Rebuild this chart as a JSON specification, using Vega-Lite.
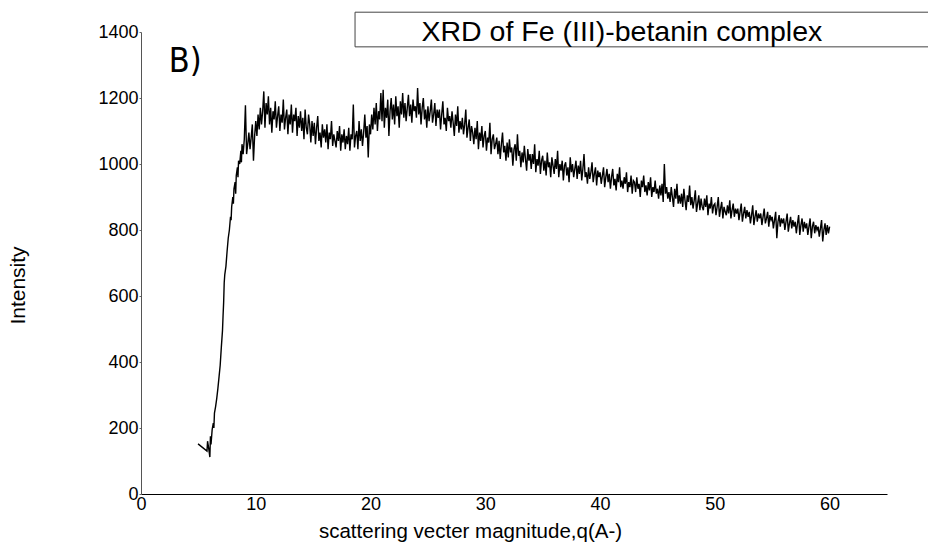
{
"$schema":"https://vega.github.io/schema/vega-lite/v6.json",
"autosize":{"type":"none"},
"width":746,"height":462,
"padding":{"left":141,"top":32,"right":41,"bottom":54},
"background":"white",
"config":{"view":{"stroke":null},"font":"Liberation Sans"},
"datasets":{"xrd":[
{"q":4.97,"i":152},{"q":5.75,"i":130},{"q":5.8,"i":160},{"q":5.9,"i":138},{"q":6.0,"i":112},{"q":6.05,"i":175},{"q":6.1,"i":150},{"q":6.2,"i":195},{"q":6.3,"i":215},{"q":6.35,"i":200},{"q":6.4,"i":245},{"q":6.5,"i":265},{"q":6.6,"i":290},{"q":6.7,"i":320},{"q":6.8,"i":355},{"q":6.9,"i":390},{"q":7.0,"i":445},{"q":7.1,"i":495},{"q":7.15,"i":540},{"q":7.2,"i":580},{"q":7.25,"i":640},{"q":7.3,"i":665},{"q":7.4,"i":690},{"q":7.5,"i":735},{"q":7.6,"i":775},{"q":7.7,"i":800},{"q":7.8,"i":840},{"q":7.85,"i":830},{"q":7.9,"i":870},{"q":8.0,"i":900},{"q":8.05,"i":880},{"q":8.1,"i":925},{"q":8.2,"i":945},{"q":8.25,"i":910},{"q":8.3,"i":965},{"q":8.4,"i":990},{"q":8.45,"i":960},{"q":8.5,"i":1010},{"q":8.6,"i":1000},{"q":8.7,"i":1040},{"q":8.75,"i":1005},{"q":8.8,"i":1060},{"q":8.9,"i":1030},
{"q":9.0,"i":1075},{"q":9.1,"i":1178},{"q":9.2,"i":1030},{"q":9.3,"i":1060},{"q":9.4,"i":1095},{"q":9.5,"i":1045},{"q":9.6,"i":1080},{"q":9.7,"i":1120},{"q":9.8,"i":1010},{"q":9.9,"i":1085},
{"q":10.0,"i":1130},{"q":10.1,"i":1085},{"q":10.2,"i":1150},{"q":10.3,"i":1105},{"q":10.4,"i":1170},{"q":10.5,"i":1120},{"q":10.6,"i":1160},{"q":10.7,"i":1220},{"q":10.8,"i":1110},{"q":10.9,"i":1185},
{"q":11.0,"i":1150},{"q":11.1,"i":1205},{"q":11.2,"i":1120},{"q":11.3,"i":1170},{"q":11.4,"i":1095},{"q":11.5,"i":1160},{"q":11.6,"i":1135},{"q":11.7,"i":1190},{"q":11.8,"i":1110},{"q":11.9,"i":1145},
{"q":12.0,"i":1175},{"q":12.1,"i":1100},{"q":12.2,"i":1150},{"q":12.3,"i":1125},{"q":12.4,"i":1195},{"q":12.5,"i":1105},{"q":12.6,"i":1140},{"q":12.7,"i":1165},{"q":12.8,"i":1090},{"q":12.9,"i":1150},
{"q":13.0,"i":1120},{"q":13.1,"i":1180},{"q":13.2,"i":1095},{"q":13.3,"i":1150},{"q":13.4,"i":1130},{"q":13.5,"i":1170},{"q":13.6,"i":1085},{"q":13.7,"i":1145},{"q":13.8,"i":1110},{"q":13.9,"i":1160},
{"q":14.0,"i":1100},{"q":14.1,"i":1140},{"q":14.2,"i":1075},{"q":14.3,"i":1165},{"q":14.4,"i":1110},{"q":14.5,"i":1090},{"q":14.6,"i":1150},{"q":14.7,"i":1120},{"q":14.8,"i":1065},{"q":14.9,"i":1130},
{"q":15.0,"i":1085},{"q":15.1,"i":1125},{"q":15.2,"i":1060},{"q":15.3,"i":1110},{"q":15.4,"i":1145},{"q":15.5,"i":1070},{"q":15.6,"i":1095},{"q":15.7,"i":1050},{"q":15.8,"i":1120},{"q":15.9,"i":1080},
{"q":16.0,"i":1105},{"q":16.1,"i":1065},{"q":16.2,"i":1120},{"q":16.3,"i":1045},{"q":16.4,"i":1095},{"q":16.5,"i":1075},{"q":16.6,"i":1130},{"q":16.7,"i":1055},{"q":16.8,"i":1090},{"q":16.9,"i":1070},
{"q":17.0,"i":1050},{"q":17.1,"i":1100},{"q":17.2,"i":1070},{"q":17.3,"i":1115},{"q":17.4,"i":1040},{"q":17.5,"i":1090},{"q":17.6,"i":1065},{"q":17.7,"i":1105},{"q":17.8,"i":1045},{"q":17.9,"i":1085},
{"q":18.0,"i":1060},{"q":18.1,"i":1110},{"q":18.2,"i":1040},{"q":18.3,"i":1090},{"q":18.4,"i":1075},{"q":18.5,"i":1180},{"q":18.6,"i":1050},{"q":18.7,"i":1085},{"q":18.8,"i":1100},{"q":18.9,"i":1045},
{"q":19.0,"i":1130},{"q":19.1,"i":1070},{"q":19.2,"i":1105},{"q":19.3,"i":1055},{"q":19.4,"i":1095},{"q":19.5,"i":1150},{"q":19.6,"i":1080},{"q":19.7,"i":1115},{"q":19.8,"i":1020},{"q":19.9,"i":1120},
{"q":20.0,"i":1090},{"q":20.1,"i":1150},{"q":20.2,"i":1105},{"q":20.3,"i":1170},{"q":20.4,"i":1120},{"q":20.5,"i":1185},{"q":20.6,"i":1100},{"q":20.7,"i":1160},{"q":20.8,"i":1135},{"q":20.9,"i":1215},
{"q":21.0,"i":1130},{"q":21.1,"i":1225},{"q":21.2,"i":1110},{"q":21.3,"i":1170},{"q":21.4,"i":1140},{"q":21.5,"i":1195},{"q":21.6,"i":1085},{"q":21.7,"i":1160},{"q":21.8,"i":1200},{"q":21.9,"i":1135},
{"q":22.0,"i":1180},{"q":22.1,"i":1120},{"q":22.2,"i":1205},{"q":22.3,"i":1145},{"q":22.4,"i":1175},{"q":22.5,"i":1110},{"q":22.6,"i":1190},{"q":22.7,"i":1150},{"q":22.8,"i":1215},{"q":22.9,"i":1140},
{"q":23.0,"i":1185},{"q":23.1,"i":1130},{"q":23.2,"i":1170},{"q":23.3,"i":1210},{"q":23.4,"i":1145},{"q":23.5,"i":1180},{"q":23.6,"i":1125},{"q":23.7,"i":1195},{"q":23.8,"i":1160},{"q":23.9,"i":1175},
{"q":24.0,"i":1140},{"q":24.1,"i":1230},{"q":24.2,"i":1150},{"q":24.3,"i":1185},{"q":24.4,"i":1120},{"q":24.5,"i":1170},{"q":24.6,"i":1200},{"q":24.7,"i":1135},{"q":24.8,"i":1165},{"q":24.9,"i":1110},
{"q":25.0,"i":1175},{"q":25.1,"i":1130},{"q":25.2,"i":1160},{"q":25.3,"i":1195},{"q":25.4,"i":1125},{"q":25.5,"i":1150},{"q":25.6,"i":1185},{"q":25.7,"i":1115},{"q":25.8,"i":1165},{"q":25.9,"i":1140},
{"q":26.0,"i":1165},{"q":26.1,"i":1105},{"q":26.2,"i":1150},{"q":26.3,"i":1190},{"q":26.4,"i":1120},{"q":26.5,"i":1140},{"q":26.6,"i":1100},{"q":26.7,"i":1170},{"q":26.8,"i":1130},{"q":26.9,"i":1145},
{"q":27.0,"i":1110},{"q":27.1,"i":1160},{"q":27.2,"i":1125},{"q":27.3,"i":1085},{"q":27.4,"i":1150},{"q":27.5,"i":1115},{"q":27.6,"i":1175},{"q":27.7,"i":1095},{"q":27.8,"i":1130},{"q":27.9,"i":1105},
{"q":28.0,"i":1140},{"q":28.1,"i":1090},{"q":28.2,"i":1120},{"q":28.3,"i":1165},{"q":28.4,"i":1080},{"q":28.5,"i":1110},{"q":28.6,"i":1135},{"q":28.7,"i":1070},{"q":28.8,"i":1115},{"q":28.9,"i":1095},
{"q":29.0,"i":1060},{"q":29.1,"i":1110},{"q":29.2,"i":1075},{"q":29.3,"i":1130},{"q":29.4,"i":1045},{"q":29.5,"i":1095},{"q":29.6,"i":1070},{"q":29.7,"i":1115},{"q":29.8,"i":1050},{"q":29.9,"i":1085},
{"q":30.0,"i":1100},{"q":30.1,"i":1040},{"q":30.2,"i":1080},{"q":30.3,"i":1065},{"q":30.4,"i":1125},{"q":30.5,"i":1030},{"q":30.6,"i":1075},{"q":30.7,"i":1090},{"q":30.8,"i":1045},{"q":30.9,"i":1060},
{"q":31.0,"i":1080},{"q":31.1,"i":1030},{"q":31.2,"i":1070},{"q":31.3,"i":1015},{"q":31.4,"i":1060},{"q":31.5,"i":1095},{"q":31.6,"i":1035},{"q":31.7,"i":1055},{"q":31.8,"i":1010},{"q":31.9,"i":1065},
{"q":32.0,"i":1020},{"q":32.1,"i":1075},{"q":32.2,"i":1035},{"q":32.3,"i":1050},{"q":32.4,"i":995},{"q":32.5,"i":1045},{"q":32.6,"i":1060},{"q":32.7,"i":1010},{"q":32.8,"i":1090},{"q":32.9,"i":1025},
{"q":33.0,"i":1040},{"q":33.1,"i":990},{"q":33.2,"i":1035},{"q":33.3,"i":1005},{"q":33.4,"i":1055},{"q":33.5,"i":1015},{"q":33.6,"i":980},{"q":33.7,"i":1045},{"q":33.8,"i":1010},{"q":33.9,"i":1030},
{"q":34.0,"i":985},{"q":34.1,"i":1030},{"q":34.2,"i":1000},{"q":34.3,"i":1060},{"q":34.4,"i":975},{"q":34.5,"i":1015},{"q":34.6,"i":995},{"q":34.7,"i":1040},{"q":34.8,"i":970},{"q":34.9,"i":1010},
{"q":35.0,"i":1025},{"q":35.1,"i":980},{"q":35.2,"i":1010},{"q":35.3,"i":965},{"q":35.4,"i":1035},{"q":35.5,"i":990},{"q":35.6,"i":1005},{"q":35.7,"i":960},{"q":35.8,"i":1020},{"q":35.9,"i":995},
{"q":36.0,"i":970},{"q":36.1,"i":1015},{"q":36.2,"i":985},{"q":36.3,"i":1040},{"q":36.4,"i":960},{"q":36.5,"i":1000},{"q":36.6,"i":980},{"q":36.7,"i":1010},{"q":36.8,"i":950},{"q":36.9,"i":995},
{"q":37.0,"i":1005},{"q":37.1,"i":965},{"q":37.2,"i":990},{"q":37.3,"i":945},{"q":37.4,"i":1020},{"q":37.5,"i":975},{"q":37.6,"i":1000},{"q":37.7,"i":960},{"q":37.8,"i":985},{"q":37.9,"i":1010},
{"q":38.0,"i":955},{"q":38.1,"i":995},{"q":38.2,"i":970},{"q":38.3,"i":1010},{"q":38.4,"i":950},{"q":38.5,"i":985},{"q":38.6,"i":1030},{"q":38.7,"i":960},{"q":38.8,"i":975},{"q":38.9,"i":940},
{"q":39.0,"i":990},{"q":39.1,"i":955},{"q":39.2,"i":975},{"q":39.3,"i":1005},{"q":39.4,"i":945},{"q":39.5,"i":970},{"q":39.6,"i":990},{"q":39.7,"i":935},{"q":39.8,"i":980},{"q":39.9,"i":960},
{"q":40.0,"i":975},{"q":40.1,"i":940},{"q":40.2,"i":965},{"q":40.3,"i":990},{"q":40.4,"i":930},{"q":40.5,"i":960},{"q":40.6,"i":985},{"q":40.7,"i":945},{"q":40.8,"i":970},{"q":40.9,"i":925},
{"q":41.0,"i":960},{"q":41.1,"i":985},{"q":41.2,"i":935},{"q":41.3,"i":955},{"q":41.4,"i":920},{"q":41.5,"i":970},{"q":41.6,"i":945},{"q":41.7,"i":990},{"q":41.8,"i":930},{"q":41.9,"i":950},
{"q":42.0,"i":925},{"q":42.1,"i":960},{"q":42.2,"i":940},{"q":42.3,"i":975},{"q":42.4,"i":915},{"q":42.5,"i":945},{"q":42.6,"i":930},{"q":42.7,"i":965},{"q":42.8,"i":910},{"q":42.9,"i":950},
{"q":43.0,"i":945},{"q":43.1,"i":915},{"q":43.2,"i":960},{"q":43.3,"i":925},{"q":43.4,"i":940},{"q":43.5,"i":900},{"q":43.6,"i":950},{"q":43.7,"i":930},{"q":43.8,"i":965},{"q":43.9,"i":915},
{"q":44.0,"i":935},{"q":44.1,"i":905},{"q":44.2,"i":945},{"q":44.3,"i":920},{"q":44.4,"i":960},{"q":44.5,"i":900},{"q":44.6,"i":930},{"q":44.7,"i":915},{"q":44.8,"i":950},{"q":44.9,"i":910},
{"q":45.0,"i":925},{"q":45.1,"i":895},{"q":45.2,"i":935},{"q":45.3,"i":905},{"q":45.4,"i":940},{"q":45.5,"i":885},{"q":45.6,"i":1000},{"q":45.7,"i":910},{"q":45.8,"i":930},{"q":45.9,"i":895},
{"q":46.0,"i":915},{"q":46.1,"i":885},{"q":46.2,"i":930},{"q":46.3,"i":900},{"q":46.4,"i":870},{"q":46.5,"i":925},{"q":46.6,"i":895},{"q":46.7,"i":940},{"q":46.8,"i":880},{"q":46.9,"i":905},
{"q":47.0,"i":880},{"q":47.1,"i":910},{"q":47.2,"i":870},{"q":47.3,"i":925},{"q":47.4,"i":890},{"q":47.5,"i":860},{"q":47.6,"i":905},{"q":47.7,"i":885},{"q":47.8,"i":935},{"q":47.9,"i":875},
{"q":48.0,"i":900},{"q":48.1,"i":865},{"q":48.2,"i":890},{"q":48.3,"i":920},{"q":48.4,"i":855},{"q":48.5,"i":880},{"q":48.6,"i":905},{"q":48.7,"i":860},{"q":48.8,"i":895},{"q":48.9,"i":870},
{"q":49.0,"i":860},{"q":49.1,"i":895},{"q":49.2,"i":870},{"q":49.3,"i":905},{"q":49.4,"i":845},{"q":49.5,"i":880},{"q":49.6,"i":865},{"q":49.7,"i":900},{"q":49.8,"i":850},{"q":49.9,"i":875},
{"q":50.0,"i":880},{"q":50.1,"i":845},{"q":50.2,"i":870},{"q":50.3,"i":900},{"q":50.4,"i":840},{"q":50.5,"i":865},{"q":50.6,"i":885},{"q":50.7,"i":835},{"q":50.8,"i":870},{"q":50.9,"i":855},
{"q":51.0,"i":845},{"q":51.1,"i":875},{"q":51.2,"i":850},{"q":51.3,"i":890},{"q":51.4,"i":835},{"q":51.5,"i":860},{"q":51.6,"i":880},{"q":51.7,"i":840},{"q":51.8,"i":865},{"q":51.9,"i":850},
{"q":52.0,"i":865},{"q":52.1,"i":830},{"q":52.2,"i":855},{"q":52.3,"i":880},{"q":52.4,"i":825},{"q":52.5,"i":850},{"q":52.6,"i":870},{"q":52.7,"i":835},{"q":52.8,"i":860},{"q":52.9,"i":840},
{"q":53.0,"i":855},{"q":53.1,"i":820},{"q":53.2,"i":845},{"q":53.3,"i":875},{"q":53.4,"i":815},{"q":53.5,"i":840},{"q":53.6,"i":860},{"q":53.7,"i":825},{"q":53.8,"i":850},{"q":53.9,"i":835},
{"q":54.0,"i":850},{"q":54.1,"i":815},{"q":54.2,"i":840},{"q":54.3,"i":865},{"q":54.4,"i":820},{"q":54.5,"i":835},{"q":54.6,"i":855},{"q":54.7,"i":810},{"q":54.8,"i":845},{"q":54.9,"i":830},
{"q":55.0,"i":840},{"q":55.1,"i":805},{"q":55.2,"i":830},{"q":55.3,"i":855},{"q":55.4,"i":775},{"q":55.5,"i":825},{"q":55.6,"i":845},{"q":55.7,"i":810},{"q":55.8,"i":835},{"q":55.9,"i":820},
{"q":56.0,"i":835},{"q":56.1,"i":800},{"q":56.2,"i":825},{"q":56.3,"i":850},{"q":56.4,"i":795},{"q":56.5,"i":820},{"q":56.6,"i":840},{"q":56.7,"i":805},{"q":56.8,"i":830},{"q":56.9,"i":810},
{"q":57.0,"i":825},{"q":57.1,"i":790},{"q":57.2,"i":820},{"q":57.3,"i":845},{"q":57.4,"i":785},{"q":57.5,"i":815},{"q":57.6,"i":835},{"q":57.7,"i":795},{"q":57.8,"i":825},{"q":57.9,"i":805},
{"q":58.0,"i":820},{"q":58.1,"i":785},{"q":58.2,"i":810},{"q":58.3,"i":835},{"q":58.4,"i":775},{"q":58.5,"i":810},{"q":58.6,"i":825},{"q":58.7,"i":790},{"q":58.8,"i":815},{"q":58.9,"i":800},
{"q":59.0,"i":810},{"q":59.1,"i":780},{"q":59.2,"i":805},{"q":59.3,"i":830},{"q":59.4,"i":765},{"q":59.5,"i":800},{"q":59.6,"i":820},{"q":59.7,"i":785},{"q":59.8,"i":815},{"q":59.9,"i":790},
{"q":60.0,"i":810}
]},
"layer":[
{"data":{"name":"xrd"},
 "mark":{"type":"line","color":"#000000","strokeWidth":1.4},
 "encoding":{
  "x":{"field":"q","type":"quantitative","scale":{"domain":[0,65],"nice":false},
   "axis":{"values":[0,10,20,30,40,50,60],"format":"d","ticks":false,"grid":false,"domainColor":"#000000","domainWidth":1.2,"labelFontSize":18,"labelColor":"#000000","labelPadding":1,"labelFont":"Liberation Sans","labelFlush":false,
    "title":"scattering vecter magnitude,q(A-)","titleFontSize":20.5,"titleFontWeight":"normal","titleColor":"#000000","titleFont":"Liberation Sans","titleX":329,"titleY":43,"titleBaseline":"alphabetic","titleAlign":"center"}},
  "y":{"field":"i","type":"quantitative","scale":{"domain":[0,1400],"nice":false},
   "axis":{"values":[0,100,200,300,400,500,600,700,800,900,1000,1100,1200,1300,1400],"format":"d","labelExpr":"datum.value % 200 === 0 ? datum.label : ''","grid":false,"tickSize":2,"tickColor":"#666666","domainColor":"#555555","labelFontSize":18,"labelColor":"#000000","labelPadding":1,"labelFont":"Liberation Sans","labelFlush":false,
    "title":"Intensity","titleFontSize":21,"titleFontWeight":"normal","titleColor":"#000000","titleFont":"Liberation Sans","titleX":-123,"titleY":253,"titleBaseline":"middle","titleAlign":"center","titleAngle":-90}}
 }},
{"data":{"values":[{}]},
 "mark":{"type":"rect","fill":"#ffffff","stroke":"#444444","strokeWidth":1},
 "encoding":{"x":{"datum":18.65},"x2":{"datum":70},"y":{"datum":1460},"y2":{"datum":1355}}},
{"data":{"values":[{}]},
 "mark":{"type":"text","text":"XRD of Fe (III)-betanin complex","font":"Liberation Sans","fontSize":28.5,"align":"center","baseline":"alphabetic","color":"#000000"},
 "encoding":{"x":{"datum":41.9},"y":{"datum":1373}}},
{"data":{"values":[{}]},
 "mark":{"type":"text","text":"B)","font":"DejaVu Sans Condensed, Liberation Sans","fontSize":34,"align":"center","baseline":"alphabetic","color":"#000000"},
 "encoding":{"x":{"datum":3.85},"y":{"datum":1280}}}
]
}
